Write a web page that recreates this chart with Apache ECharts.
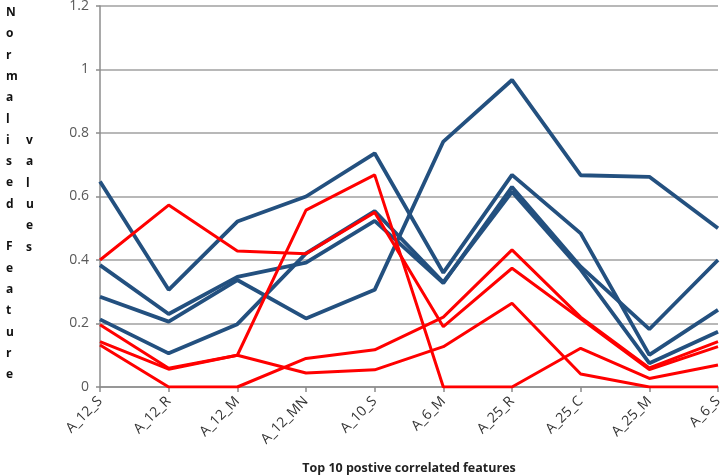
<!DOCTYPE html>
<html>
<head>
<meta charset="utf-8">
<script src="https://cdn.jsdelivr.net/npm/echarts@6/dist/echarts.min.js"></script>
<style>html,body{margin:0;padding:0;background:#fff;}#c{width:720px;height:475px;}</style>
</head>
<body>
<div id="c"></div>
<script>
const categories = ['A_12_S','A_12_R','A_12_M','A_12_MN','A_10_S','A_6_M','A_25_R','A_25_C','A_25_M','A_6_S'];
const yTicks = [0, 0.2, 0.4, 0.6, 0.8, 1, 1.2];
const blue1 = [0.647, 0.306, 0.521, 0.600, 0.736, 0.360, 0.668, 0.484, 0.101, 0.243];
const blue2 = [0.384, 0.230, 0.347, 0.392, 0.523, 0.327, 0.630, 0.379, 0.182, 0.400];
const blue3 = [0.284, 0.206, 0.337, 0.216, 0.306, 0.773, 0.967, 0.667, 0.662, 0.500];
const blue4 = [0.213, 0.106, 0.198, 0.421, 0.554, 0.330, 0.615, 0.370, 0.075, 0.174];
const red1 = [0.400, 0.573, 0.428, 0.420, 0.550, 0.190, 0.374, 0.215, 0.055, 0.127];
const red2 = [0.196, 0.059, 0.100, 0.557, 0.668, 0.000, 0.000, 0.122, 0.027, 0.069];
const red3 = [0.143, 0.056, 0.100, 0.044, 0.054, 0.127, 0.264, 0.041, 0.000, 0.000];
const red4 = [0.132, 0.000, 0.000, 0.090, 0.117, 0.220, 0.432, 0.220, 0.060, 0.143];
const yTitleCol1 = 'Normalised Feature';
const yTitleCol2 = 'values';
const xTitle = 'Top 10 postive correlated features';

const BLUE = '#23507f', RED = '#ff0000';
function mk(data, color, w) {
  return { type: 'line', data: data, symbol: 'none', smooth: false,
    lineStyle: { color: color, width: w }, itemStyle: { color: color }, z: color === RED ? 3 : 2 };
}
const chart = echarts.init(document.getElementById('c'), null, { renderer: 'canvas' });
chart.setOption({
  backgroundColor: '#fff',
  animation: false,
  grid: { left: 100, right: 2, top: 6, bottom: 88, containLabel: false, outerBoundsMode: 'none' },
  xAxis: {
    type: 'category', data: categories, boundaryGap: false,
    axisLine: { lineStyle: { color: '#8c8c8c', width: 1.5 } },
    axisTick: { show: true, length: 5, lineStyle: { color: '#8c8c8c', width: 1.5 } },
    axisLabel: { rotate: 45, color: '#333', fontFamily: 'Open Sans', fontSize: 14, margin: 12 },
    name: xTitle, nameLocation: 'middle', nameGap: 75,
    nameTextStyle: { color: '#222', fontFamily: 'Open Sans', fontWeight: 'bold', fontSize: 12.5 }
  },
  yAxis: {
    type: 'value', min: yTicks[0], max: yTicks[yTicks.length - 1], interval: 0.2,
    axisLine: { show: true, lineStyle: { color: '#8c8c8c', width: 1.5 } },
    axisTick: { show: true, length: 4, lineStyle: { color: '#8c8c8c', width: 1.5 } },
    splitLine: { lineStyle: { color: '#a0a0a0', width: 1.5 } },
    axisLabel: { color: '#595959', fontFamily: 'Open Sans', fontSize: 14, margin: 11,
      formatter: function (v) { return String(Math.round(v * 10) / 10); } }
  },
  graphic: [
    { type: 'text', left: 6, top: 2, style: { text: yTitleCol1.split('').join('\n'), fill: '#111',
      font: 'bold 12px "Open Sans"', lineHeight: 21.3, align: 'center' } },
    { type: 'text', left: 26, top: 130, style: { text: yTitleCol2.split('').join('\n'), fill: '#111',
      font: 'bold 12px "Open Sans"', lineHeight: 21.3, align: 'center' } }
  ],
  series: [
    mk(blue1, BLUE, 3.8), mk(blue2, BLUE, 3.8), mk(blue3, BLUE, 3.8), mk(blue4, BLUE, 3.8),
    mk(red1, RED, 3), mk(red2, RED, 3), mk(red3, RED, 3), mk(red4, RED, 3)
  ]
});
</script>
</body>
</html>
